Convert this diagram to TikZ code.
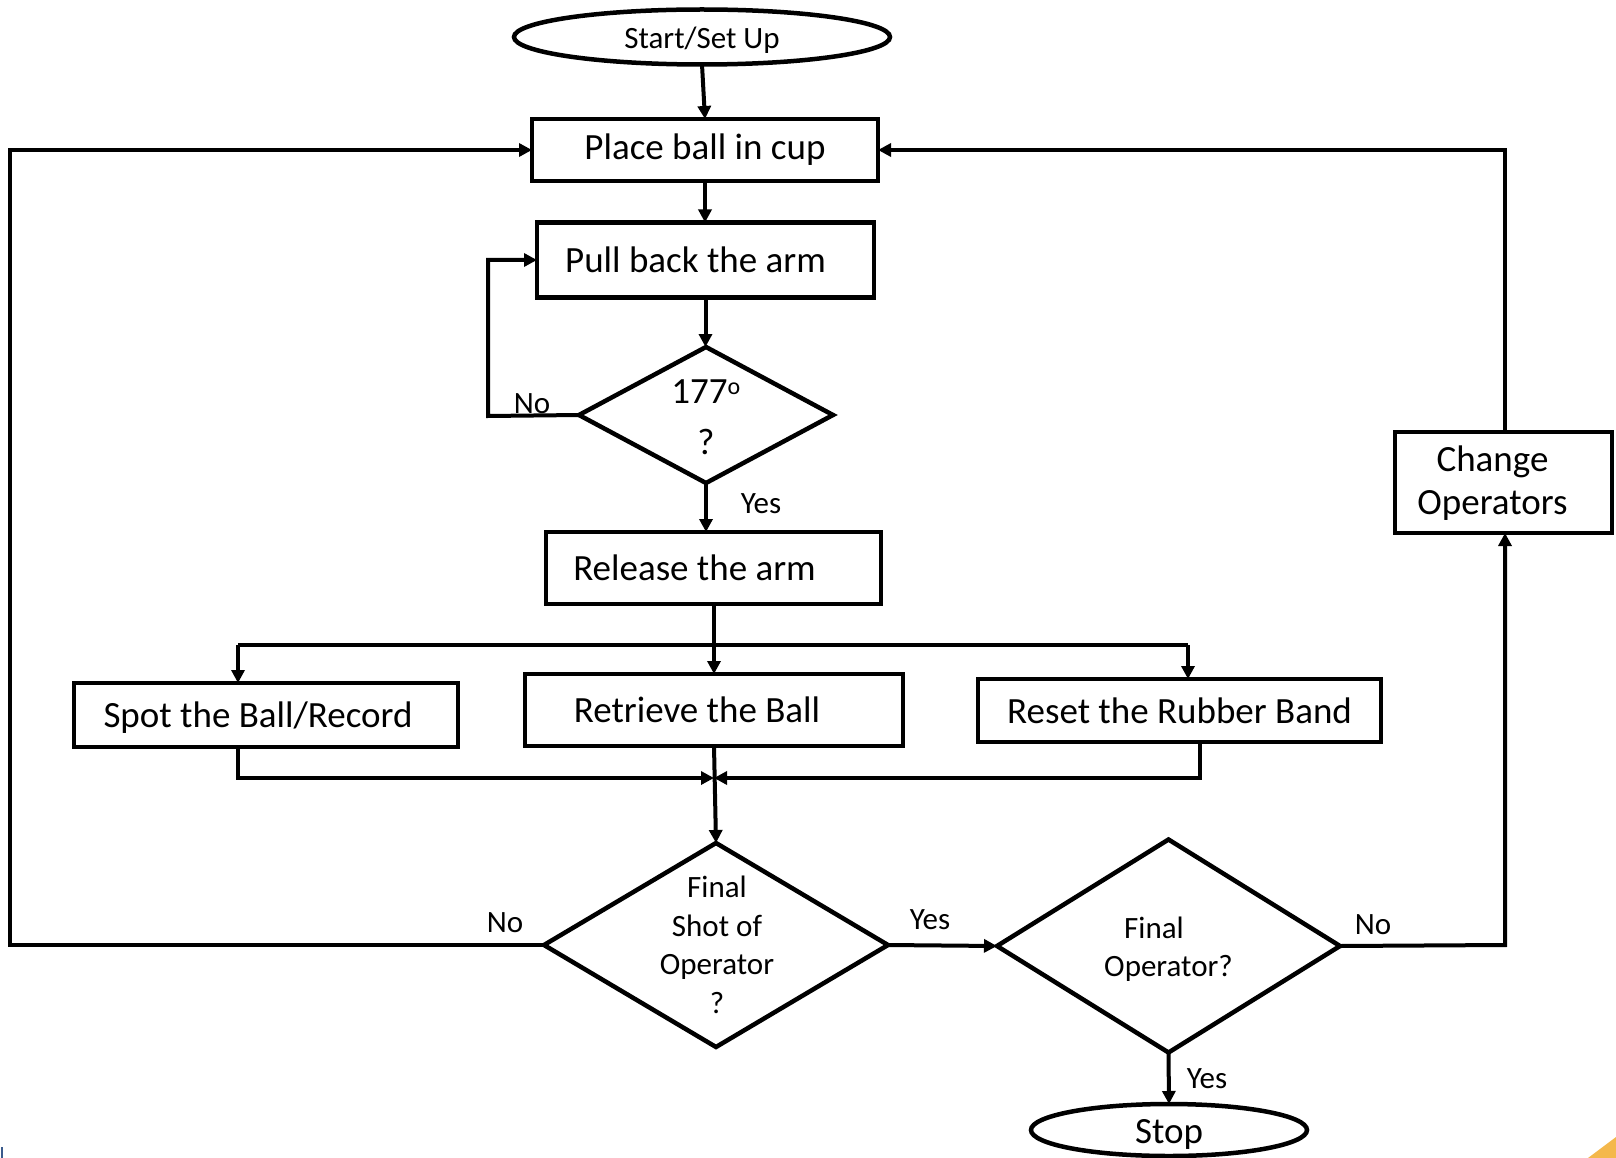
\documentclass[tikz,border=0pt]{standalone}
\usepackage{fontspec}
\setmainfont{Carlito}
\usetikzlibrary{shapes.geometric,arrows.meta}

\tikzset{
  every node/.style={inner sep=0pt, outer sep=0pt},
  boxnode/.style={draw, rectangle, line width=4.5pt, font=\fontsize{37}{44}\selectfont},
  endnode/.style={draw, ellipse, line width=4.5pt},
  decision/.style={draw, diamond, line width=4.5pt, align=center},
  lbl/.style={font=\fontsize{31}{36}\selectfont},
  conn/.style={line width=4pt},
  arr/.style={conn, -{Triangle[length=13pt,width=13pt]}}
}

\begin{document}
\begin{tikzpicture}[x=1pt, y=-1pt]
\useasboundingbox (0,0) rectangle (1616,1158);

% terminals
\node[endnode, minimum width=376pt, minimum height=55pt,
      label={[yshift=-3pt, font=\fontsize{31}{36}\selectfont]center:Start/Set Up}] (start) at (702,37) {};
\node[endnode, minimum width=276pt, minimum height=52pt,
      label={[yshift=-4pt, font=\fontsize{37}{44}\selectfont]center:Stop}] (stop) at (1169,1130) {};

% process boxes
\node[boxnode, minimum width=346pt, minimum height=62pt] (place) at (705,150) {Place ball in cup};
\node[boxnode, minimum width=337pt, minimum height=75pt,
      label={[xshift=-10pt, font=\fontsize{37}{44}\selectfont]center:Pull back the arm}] (pull) at (705.5,260) {};
\node[boxnode, minimum width=335pt, minimum height=72pt,
      label={[xshift=-19pt, font=\fontsize{37}{44}\selectfont]center:Release the arm}] (release) at (713.5,568) {};
\node[boxnode, minimum width=384pt, minimum height=64pt,
      label={[xshift=-8pt, yshift=-3pt, font=\fontsize{37}{44}\selectfont]center:Spot the Ball/Record}] (spot) at (266,715) {};
\node[boxnode, minimum width=378pt, minimum height=72pt,
      label={[xshift=-17pt, font=\fontsize{37}{44}\selectfont]center:Retrieve the Ball}] (retrieve) at (714,710) {};
\node[boxnode, minimum width=403pt, minimum height=63pt] (reset) at (1179.5,710.5) {Reset the Rubber Band};
\node[boxnode, minimum width=217pt, minimum height=101pt,
      label={[xshift=-11pt, yshift=-1pt, align=center, font=\fontsize{37}{44}\selectfont]center:Change\\[-1pt]Operators}] (change) at (1503.5,482.5) {};

% decisions (text set as labels so the outline keeps its size)
\node[decision, minimum width=254pt, minimum height=136pt,
      label={[align=center, yshift=-2pt, font=\fontsize{37}{51}\selectfont]center:177\textsuperscript{\fontsize{24}{24}\selectfont o}\\?}] (d177) at (706,415) {};
\node[decision, minimum width=344pt, minimum height=204pt,
      label={[align=center, xshift=1pt, font=\fontsize{31}{38.5}\selectfont]center:Final\\Shot of\\Operator\\?}] (dshot) at (716,945) {};
\node[decision, minimum width=343pt, minimum height=213pt,
      label={[align=center, yshift=-3pt, font=\fontsize{31}{38.5}\selectfont]center:Final\hspace*{29pt}\\Operator?}] (dop) at (1168.5,946) {};

% routing points
\coordinate (loopL) at (488,416);
\coordinate (split) at (714,645);
\coordinate (splitL) at (238,645);
\coordinate (splitR) at (1188,645);
\coordinate (merge) at (714,778);
\coordinate (spotOut) at (238,749);
\coordinate (resetOut) at (1200,744);
\coordinate (backL) at (10,945);
\coordinate (sideR) at (1505,945);

% main flow
\draw[arr] (start.south) -- (place.north);
\draw[arr] (place.south) -- (place.south |- pull.north);
\draw[arr] (pull.south) -- (pull.south |- d177.north);
\draw[arr] (d177.west) -- (loopL) |- (pull.west);
\draw[arr] (d177.south) -- (d177.south |- release.north);

% fan-out after release
\draw[conn] (release.south -| split) -- (split);
\draw[conn] (splitL) -- (splitR);
\draw[arr] (splitL) -- (splitL |- spot.north);
\draw[arr] (split) -- (split |- retrieve.north);
\draw[arr] (splitR) -- (splitR |- reset.north);

% fan-in to the decision
\draw[arr] (spotOut) |- (merge);
\draw[arr] (resetOut) |- (merge);
\draw[arr] (retrieve.south) -- (dshot.north);

% decision branches
\draw[arr] (dshot.west) -- (backL) |- (place.west);
\draw[arr] (dshot.east) -- (dop.west);
\draw[arr] (dop.east) -- (sideR) -- (sideR |- change.south);
\draw[arr] (change.north -| sideR) |- (place.east);
\draw[arr] (dop.south) -- (stop.north);

% branch labels
\node[lbl] (no1) at (532,404) {No};
\node[lbl] (yes1) at (761,504) {Yes};
\node[lbl] (no2) at (505,923) {No};
\node[lbl] (yes2) at (930,920) {Yes};
\node[lbl] (no3) at (1373,925) {No};
\node[lbl] (yes3) at (1207,1079) {Yes};

% slide corner marks
\fill[color={rgb,255:red,244;green,184;blue,76}] (1588,1158) -- (1616,1137) -- (1616,1158) -- cycle;
\draw[line width=2pt, color={rgb,255:red,58;green,90;blue,140}] (2,1147) -- (2,1158);
\end{tikzpicture}
\end{document}
